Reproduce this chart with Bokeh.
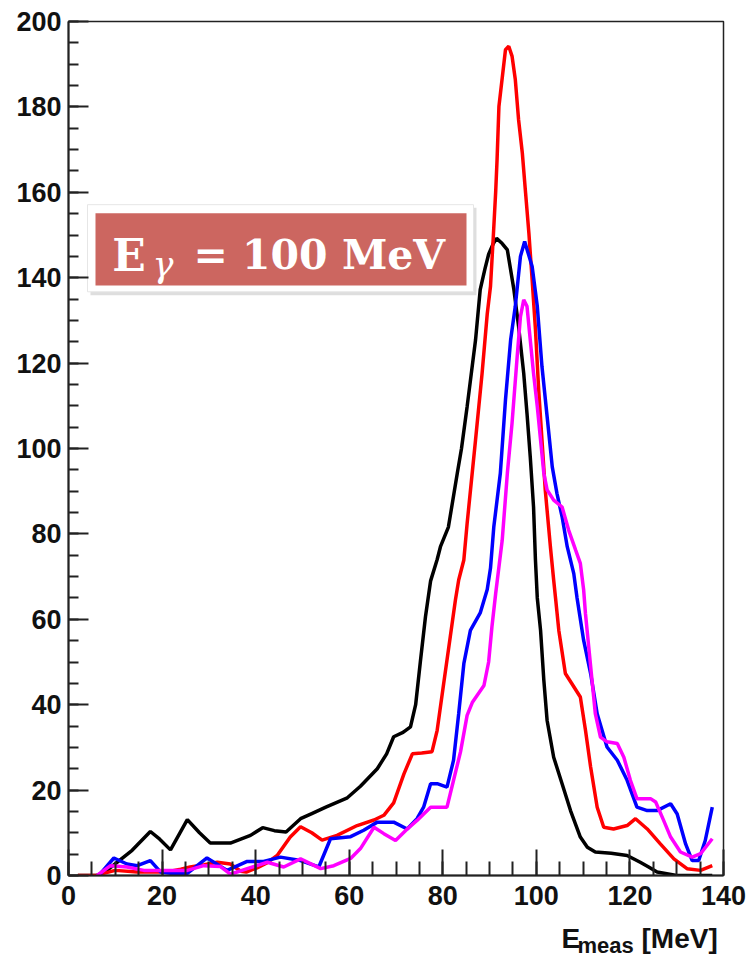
from bokeh.plotting import figure
from bokeh.models import Range1d, SingleIntervalTicker, Label
from bokeh.layouts import column
from bokeh.embed import file_html
from bokeh.resources import INLINE

# ---- data ----
black_x = [2, 6, 8, 9.7, 13.6, 17.5, 19.5, 21.8, 25.4, 28, 30.3, 34.6, 38.9, 41.5, 44, 46.5,
           49.6, 52, 55, 59.6, 62.4, 66, 68, 69.5, 71.5, 73.1, 74.2, 75.2, 76.3, 77.4, 78.8,
           79.5, 81.2, 83.1, 84, 85.2, 87, 88, 89, 89.8, 90.8, 91.5, 92.7, 93.8, 95.2, 96.2,
           97.3, 98, 98.7, 99.4, 99.8, 100.2, 100.9, 101.6, 102.3, 103.7, 105.5, 107.3,
           109.4, 110.9, 112.6, 116, 119.4, 122.2, 124, 125.8, 130, 137.6]
black_y = [0, 0, 1.0, 2.5, 5.9, 10.3, 8.5, 6.0, 13.1, 10, 7.6, 7.6, 9.4, 11.2, 10.5, 10.2,
           13.3, 14.5, 16, 18.2, 20.9, 25, 28.5, 32.5, 33.5, 34.8, 40, 50, 60.6, 69, 74,
           77, 81.6, 94.2, 100, 109.8, 125.4, 137.2, 142, 145.5, 148, 149.2, 148, 146.5, 137.2, 128.6,
           117.6, 108.2, 98, 86.3, 74, 65, 57.4, 45.7, 36.3, 27.7, 21.5, 15.2,
           9, 6.6, 5.5, 5.2, 4.7, 3.1, 2, 0.8, 0, 0]

red_x = [2, 6, 7.5, 10, 14.7, 18, 21, 24, 26, 29, 31.8, 34.6, 36.8, 38, 40.3, 42.5, 44.6,
         47.4, 49.6, 52, 54.2, 57.4, 61.7, 65.3, 67.4, 69.5, 71.7, 73.5, 75.5, 77.7, 78.8,
         80.2, 81.6, 82.7, 83.4, 84.5, 85.2, 87, 88.4, 89.5, 90.2, 90.8, 91.3, 91.6, 92,
         93.4, 94.1, 94.8, 95.5, 96.2, 97, 97.7, 98.4, 99.1, 99.8, 100.5, 101.2, 101.9,
         103, 103.7, 104.1, 104.8, 106.2, 107.6, 109.4, 110.5, 111.6, 113, 114.4, 116.5,
         119.4, 121.2, 123.7, 126.5, 129.4, 132.2, 135.1, 137.6]
red_y = [0, 0, 0.5, 1.2, 0.8, 0.8, 0.8, 1.5, 2, 2.5, 3.1, 2.7, 1.0, 0.8, 1.8, 3, 4.7,
         9, 11.4, 10, 8.3, 9.4, 11.7, 13, 14.1, 17, 23.8, 28.5, 28.7, 29, 34,
         45, 55.9, 64.5, 69.2, 73.9, 82.4, 102, 117.6, 131.5, 138, 149.7, 160, 167.6, 180.1,
         193.4, 194.2, 191.9, 186.4, 177, 169.2, 159.8, 150.5, 139.5, 128, 113.7, 102, 90.3,
         77, 69.2, 65, 57.4, 47.3, 44.9, 41.8, 34, 25.4, 16, 11.3, 10.9,
         11.7, 13.3, 10.9, 7.4, 3.9, 1.6, 1.2, 2.3]

blue_x = [6.5, 9.7, 12.5, 14.7, 17.5, 19.7, 21.8, 25.4, 29.6, 33.9, 38.2, 41.7, 45.3, 49.6,
          53.5, 56, 60.3, 63.1, 66, 69.5, 72.4, 74.5, 75.9, 77.4, 78.8, 80.9, 82.3, 83.4,
          84.5, 85.9, 88, 89.5, 90.2, 90.9, 92.3, 93.4, 94.5, 95.5, 96.6, 97.5, 99.1, 100.2,
          101.2, 102.3, 103.4, 104.4, 105.5, 106.6, 108, 108.7, 110.1, 111.6, 113, 115.1,
          117.3, 119.4, 121.5, 123.7, 125.8, 128.7, 130.1, 131.9, 133.3, 134.7, 136.1, 137.6]
blue_y = [0, 4.1, 2.7, 2.3, 3.5, 0.8, 0.5, 0.5, 4.1, 1.2, 3.3, 3.3, 4.3, 3.5,
          2, 8.6, 9.1, 10.6, 12.5, 12.5, 10.9, 13.3, 16, 21.5, 21.5, 20.7, 27, 37.9,
          49.6, 57.4, 61.5, 67, 72, 81.6, 94.2, 111.4, 125.4, 133.3, 145, 148.5, 142.6, 133.3,
          119.2, 107.5, 95.7, 89.5, 84, 77, 70.7, 65, 55.1, 47.3, 37.9, 30.1,
          27, 22.3, 16, 15.2, 15.2, 16.8, 14.4, 7.4, 3.5, 3.5, 8.2, 16]

magenta_x = [6.1, 9, 12.5, 16.1, 21.8, 25.4, 28.9, 32.5, 34.6, 38.2, 42.5, 46, 49.6, 53.9,
             56.7, 60.3, 62.4, 65.3, 67.4, 69.9, 72.4, 74.5, 77.4, 80.9, 82.3, 83.8, 85.2,
             86.3, 88.8, 89.8, 90.5, 91.3, 92.7, 93.8, 94.8, 95.9, 96.6, 97.3, 98, 98.7,
             99.4, 100.2, 100.9, 101.6, 102.3, 103.7, 105.5, 106.9, 108.4, 109.4, 110.1,
             110.5, 111.2, 111.9, 112.6, 113.7, 115.1, 117.3, 118.7, 120.1, 121.5, 124.4,
             125.5, 127.2, 128.7, 130.8, 133.3, 135.1, 137.6]
magenta_y = [0, 2.3, 2, 1.2, 1.2, 1.2, 2.3, 2.1, 0.3, 1.6, 3.1, 2, 3.9, 1.6,
             2.3, 4, 6.3, 11.3, 9.8, 8.2, 10.9, 12.9, 16, 16, 22.3, 29, 37.5,
             40.5, 44.5, 50, 58.2, 66, 78.5, 94.2, 105.9, 121.5, 130.9, 134.8, 133.3, 125.4,
             117.6, 109.8, 102, 94.2, 90.3, 87.9, 86.3, 80.9, 76.2, 73.1, 67,
             61.3, 53.5, 45.7, 37.9, 32.4, 31.3, 30.9, 27.7, 22.3, 18, 18,
             17.2, 12.9, 9, 5.5, 4.3, 5.1, 8.6]

series = [
    (black_x, black_y, "#000000"),
    (red_x, red_y, "#FF0000"),
    (blue_x, blue_y, "#0000FF"),
    (magenta_x, magenta_y, "#FF00FF"),
]

x_label_main = "E"
x_label_sub = "meas"
x_label_unit = "[MeV]"
box_text_main = "E"
box_text_sub = "\u03b3"
box_text_rest = "= 100 MeV"

TITLE_H = 38
FRAME_L, FRAME_R = 68, 723

# ---- main figure ----
p = figure(width=749, height=957 - TITLE_H, output_backend="svg", toolbar_location=None,
           x_range=Range1d(0, 140), y_range=Range1d(0, 200),
           min_border_left=FRAME_L, min_border_right=749 - FRAME_R, min_border_top=21,
           min_border_bottom=82 - TITLE_H)
p.xgrid.visible = False
p.ygrid.visible = False
p.background_fill_color = "white"
p.border_fill_color = "white"
p.outline_line_color = "#222222"
p.outline_line_width = 1.5

p.xaxis.ticker = SingleIntervalTicker(interval=20, num_minor_ticks=4)
p.yaxis.ticker = SingleIntervalTicker(interval=20, num_minor_ticks=4)

for ax in (p.xaxis[0], p.yaxis[0]):
    ax.axis_line_width = 2
    ax.axis_line_color = "#222222"
    ax.major_tick_out = 0
    ax.minor_tick_out = 0
    ax.major_tick_line_width = 2
    ax.minor_tick_line_width = 2
    ax.major_tick_line_color = "#222222"
    ax.minor_tick_line_color = "#222222"
    ax.major_label_text_font = "Liberation Sans"
    ax.major_label_text_font_style = "bold"
    ax.major_label_text_font_size = "27px"
    ax.major_label_text_color = "#111111"

p.xaxis[0].major_tick_in = 26
p.xaxis[0].minor_tick_in = 14
p.xaxis[0].major_label_standoff = 10
p.yaxis[0].major_tick_in = 20
p.yaxis[0].minor_tick_in = 10
p.yaxis[0].major_label_standoff = 7

for xs, ys, col in series:
    p.line(xs, ys, line_color=col, line_width=3.5)

# ---- title box ----
p.quad(left=[4.7], right=[87.2], bottom=[135.9], top=[156.4], fill_color="#C8C8C8",
       fill_alpha=0.6, line_color=None)
p.quad(left=[4.06], right=[86.56], bottom=[136.7], top=[157.1], fill_color="white",
       line_color="#E6E6E6", line_width=1)
p.quad(left=[5.77], right=[85.07], bottom=[138.2], top=[155.1], fill_color="#CC6660",
       line_color=None)

p.add_layout(Label(x=9.33, y=145.2, text=box_text_main, text_font="DejaVu Serif",
                   text_font_style="bold", text_font_size="44px", text_color="white",
                   text_baseline="alphabetic", text_align="left"))
p.add_layout(Label(x=17.95, y=143.0, text=box_text_sub, text_font="DejaVu Serif",
                   text_font_style="italic", text_font_size="35px", text_color="white",
                   text_baseline="alphabetic", text_align="left"))
p.add_layout(Label(x=26.7, y=145.2, text=box_text_rest, text_font="DejaVu Serif",
                   text_font_style="bold", text_font_size="41px", text_color="white",
                   text_baseline="alphabetic", text_align="left"))

# ---- strip below for the x axis title (its frame lines up with the main frame;
#      x is given in page pixels) ----
t = figure(width=749, height=TITLE_H, output_backend="svg", toolbar_location=None,
           x_range=Range1d(FRAME_L, FRAME_R), y_range=Range1d(0, TITLE_H),
           x_axis_location=None, y_axis_location=None,
           min_border_left=FRAME_L, min_border_right=749 - FRAME_R,
           min_border_top=0, min_border_bottom=0)
t.xgrid.visible = False
t.ygrid.visible = False
t.outline_line_color = None
t.background_fill_color = "white"
t.border_fill_color = "white"

t.add_layout(Label(x=641, y=19, text=x_label_unit, text_font="Liberation Sans",
                   text_font_style="bold", text_font_size="28px", text_color="#111111",
                   text_baseline="alphabetic", text_align="left"))
t.add_layout(Label(x=577, y=12, text=x_label_sub, text_font="Liberation Sans",
                   text_font_style="bold", text_font_size="22px", text_color="#111111",
                   text_baseline="alphabetic", text_align="left"))
t.add_layout(Label(x=561, y=19, text=x_label_main, text_font="Liberation Sans",
                   text_font_style="bold", text_font_size="28px", text_color="#111111",
                   text_baseline="alphabetic", text_align="left"))

layout = column(p, t, spacing=0)
open("out.html", "w").write(file_html(layout, INLINE))
